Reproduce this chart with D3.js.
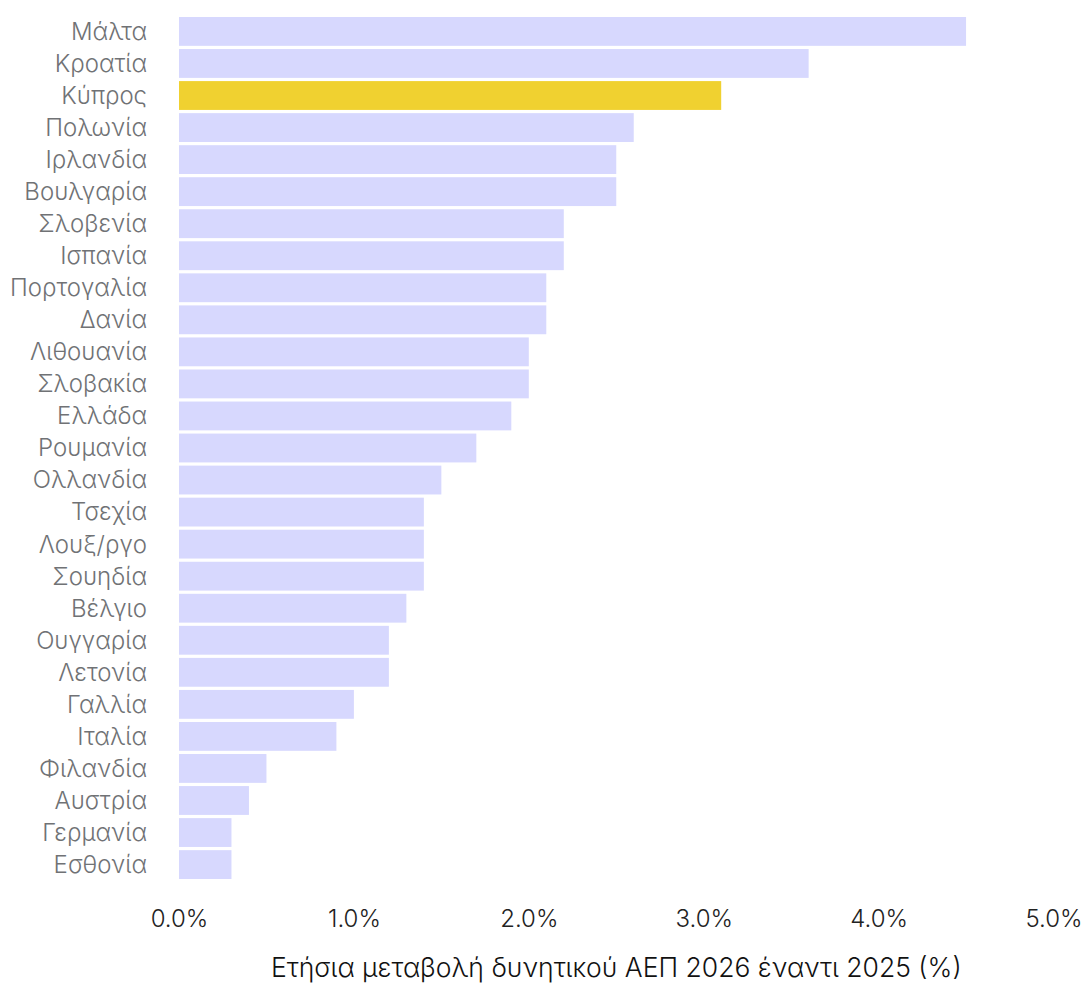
<!DOCTYPE html>
<html><head><meta charset="utf-8">
<script src="https://cdn.jsdelivr.net/npm/d3@7/dist/d3.min.js"></script>
<style>body{margin:0;background:#fff}svg{display:block}</style>
</head><body>
<svg id="c" width="1083" height="983"></svg>
<script>
const countries = ["Μάλτα","Κροατία","Κύπρος","Πολωνία","Ιρλανδία","Βουλγαρία","Σλοβενία","Ισπανία","Πορτογαλία","Δανία","Λιθουανία","Σλοβακία","Ελλάδα","Ρουμανία","Ολλανδία","Τσεχία","Λουξ/ργο","Σουηδία","Βέλγιο","Ουγγαρία","Λετονία","Γαλλία","Ιταλία","Φιλανδία","Αυστρία","Γερμανία","Εσθονία"];
const values = [4.5,3.6,3.1,2.6,2.5,2.5,2.2,2.2,2.1,2.1,2.0,2.0,1.9,1.7,1.5,1.4,1.4,1.4,1.3,1.2,1.2,1.0,0.9,0.5,0.4,0.3,0.3];
const highlight = "Κύπρος";
const xTicks = [0,1,2,3,4,5];
const xTitle = "Ετήσια μεταβολή δυνητικού ΑΕΠ 2026 έναντι 2025 (%)";

const svg = d3.select("#c");
const font = "Inter, 'Noto Sans', sans-serif";
const x = d3.scaleLinear().domain([0,5]).range([179,1053.5]);
const y = d3.scaleBand().domain(countries).range([17,879]).paddingInner(0.1).paddingOuter(0);

svg.append("g").selectAll("rect").data(countries).join("rect")
  .attr("x", x(0))
  .attr("y", d => y(d))
  .attr("width", (d,i) => x(values[i]) - x(0))
  .attr("height", y.bandwidth())
  .attr("fill", d => d === highlight ? "#f0d130" : "#d7d8fe");

const yAxis = svg.append("g").attr("transform","translate(147,0)")
  .call(d3.axisLeft(y).tickSize(0).tickPadding(0));
yAxis.select(".domain").remove();
yAxis.selectAll("text").attr("font-family", font).attr("font-size", 24).attr("font-weight", 300).attr("fill", "#707275").attr("dy","0.35em");

const xAxis = svg.append("g").attr("transform","translate(0,910)")
  .call(d3.axisBottom(x).tickValues(xTicks).tickFormat(d => d3.format(".1f")(d) + "%").tickSize(0).tickPadding(0));
xAxis.select(".domain").remove();
xAxis.selectAll("text").attr("font-family", font).attr("font-size", 24).attr("font-weight", 300).attr("fill", "#222").attr("dy","0.71em");

svg.append("text").attr("x", (x(0)+x(5))/2).attr("y", 977)
  .attr("text-anchor","middle").attr("font-family", font).attr("font-size", 26.5).attr("font-weight", 300).attr("fill","#111")
  .text(xTitle);
</script>
</body></html>
